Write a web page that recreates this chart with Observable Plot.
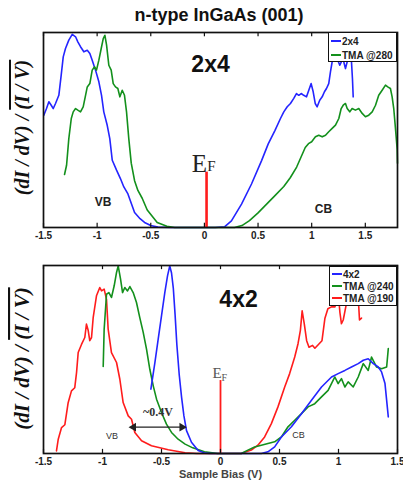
<!DOCTYPE html>
<html><head><meta charset="utf-8">
<script src="https://cdn.jsdelivr.net/npm/d3@7"></script>
<script src="https://cdn.jsdelivr.net/npm/@observablehq/plot@0.6"></script>
<style>
body{margin:0;background:#fff;width:403px;height:481px;position:relative;overflow:hidden;font-family:"Liberation Sans",Arial,sans-serif}
#title{position:absolute;left:0;top:5px;width:438px;text-align:center;font-weight:bold;font-size:18px;color:#111;line-height:normal}
.panel{position:absolute;left:0}
.legend{position:absolute;box-sizing:border-box;background:#fff;border:1.5px solid #111;font-size:10px;font-weight:bold;color:#222;white-space:nowrap}
.legend .row{display:flex;align-items:center}
.legend .sw{display:inline-block;width:10px;height:2px;margin-left:1.5px;margin-right:1.5px}
</style></head><body>
<div id="title">n-type InGaAs (001)</div>
<div id="p1" class="panel" style="top:30px"></div>
<div id="p2" class="panel" style="top:252px"></div>
<div id="leg1" class="legend" style="left:328px;top:32px;width:69px;height:30px;padding-top:1px"></div>
<div id="leg2" class="legend" style="left:329px;top:266px;width:68px;height:40px;padding-top:1px"></div>
<script>
// ---------- data ----------
const xTicksTop = [-1.5, -1, -0.5, 0, 0.5, 1, 1.5];
const xTicksBottom = [-1.5, -1, -0.5, 0, 0.5, 1, 1.5];
const seriesTop = ["2x4", "TMA @280"];
const seriesBottom = ["4x2", "TMA @240", "TMA @190"];
const colors = {"2x4": "#2424ff", "TMA @280": "#13901c", "4x2": "#2424ff", "TMA @240": "#13901c", "TMA @190": "#ff1c1c"};

// top panel: 2x4 surface (bias V, normalized conductance)
const top2x4 = [[-1.497,0.576],[-1.472,0.61],[-1.45,0.645],[-1.428,0.627],[-1.409,0.61],[-1.388,0.636],[-1.357,0.678],[-1.335,0.781],[-1.316,0.875],[-1.295,0.918],[-1.264,0.961],[-1.232,0.99],[-1.201,0.978],[-1.18,0.952],[-1.155,0.927],[-1.124,0.901],[-1.092,0.909],[-1.068,0.892],[-1.046,0.858],[-1.015,0.807],[-0.984,0.747],[-0.959,0.678],[-0.938,0.593],[-0.906,0.524],[-0.882,0.456],[-0.859,0.345],[-0.819,0.294],[-0.783,0.251],[-0.751,0.208],[-0.713,0.172],[-0.651,0.077],[-0.6,0.045],[-0.558,0.026],[-0.5,0.01],[-0.433,0.002],[-0.3,0],[-0.1,0],[0.1,0],[0.19,0.004],[0.252,0.034],[0.346,0.12],[0.439,0.223],[0.533,0.343],[0.595,0.429],[0.657,0.497],[0.709,0.559],[0.74,0.593],[0.772,0.619],[0.802,0.636],[0.833,0.662],[0.858,0.687],[0.88,0.678],[0.902,0.687],[0.926,0.678],[0.952,0.67],[0.973,0.704],[0.995,0.738],[1.014,0.696],[1.033,0.636],[1.051,0.619],[1.075,0.653],[1.098,0.67],[1.119,0.696],[1.138,0.713],[1.159,0.738],[1.175,0.798],[1.191,0.85],[1.206,0.892],[1.222,0.901],[1.243,0.858],[1.262,0.832],[1.284,0.858],[1.299,0.85],[1.315,0.815],[1.331,0.85],[1.346,0.901],[1.362,0.918],[1.371,0.85],[1.38,0.764],[1.387,0.67]];
const topTMA280 = [[-1.304,0.272],[-1.285,0.319],[-1.264,0.456],[-1.241,0.559],[-1.223,0.593],[-1.201,0.61],[-1.18,0.602],[-1.155,0.593],[-1.13,0.619],[-1.108,0.678],[-1.092,0.721],[-1.068,0.738],[-1.046,0.807],[-1.024,0.824],[-1.006,0.807],[-0.984,0.858],[-0.962,0.918],[-0.943,0.969],[-0.928,0.986],[-0.912,0.935],[-0.891,0.832],[-0.869,0.807],[-0.85,0.738],[-0.829,0.721],[-0.807,0.713],[-0.788,0.67],[-0.766,0.704],[-0.745,0.678],[-0.726,0.593],[-0.705,0.456],[-0.682,0.33],[-0.651,0.24],[-0.62,0.19],[-0.58,0.15],[-0.533,0.09],[-0.44,0.026],[-0.35,0.006],[-0.277,0],[0,0],[0.28,0],[0.35,0.01],[0.42,0.035],[0.5,0.075],[0.58,0.12],[0.66,0.165],[0.74,0.21],[0.8,0.255],[0.86,0.31],[0.9,0.36],[0.94,0.41],[0.97,0.43],[1.0,0.44],[1.035,0.465],[1.066,0.473],[1.098,0.465],[1.129,0.473],[1.159,0.491],[1.191,0.508],[1.222,0.525],[1.253,0.559],[1.275,0.61],[1.294,0.627],[1.315,0.636],[1.331,0.61],[1.355,0.593],[1.377,0.61],[1.408,0.602],[1.439,0.61],[1.471,0.585],[1.501,0.568],[1.532,0.576],[1.564,0.593],[1.595,0.627],[1.625,0.678],[1.657,0.704],[1.688,0.73],[1.709,0.721],[1.734,0.713],[1.75,0.67],[1.765,0.61],[1.781,0.508],[1.797,0.4],[1.8,0.33]];

// bottom panel
const bot4x2 = [[-0.59,0.342],[-0.556,0.484],[-0.528,0.608],[-0.5,0.732],[-0.472,0.856],[-0.449,0.945],[-0.43,0.998],[-0.415,0.96],[-0.4,0.88],[-0.385,0.74],[-0.37,0.58],[-0.35,0.42],[-0.33,0.3],[-0.31,0.2],[-0.288,0.122],[-0.246,0.06],[-0.189,0.016],[-0.133,0.002],[-0.079,0],[0.346,0],[0.402,0.009],[0.459,0.035],[0.516,0.088],[0.601,0.142],[0.686,0.212],[0.771,0.283],[0.856,0.354],[0.941,0.407],[0.997,0.425],[1.054,0.442],[1.11,0.46],[1.167,0.478],[1.21,0.496],[1.252,0.504],[1.295,0.478],[1.337,0.46],[1.365,0.434],[1.394,0.372],[1.422,0.195]];
const botTMA240 = [[-0.994,0.463],[-0.986,0.661],[-0.966,0.847],[-0.946,0.856],[-0.924,0.83],[-0.901,0.892],[-0.881,0.963],[-0.867,0.998],[-0.847,0.927],[-0.83,0.856],[-0.811,0.883],[-0.788,0.865],[-0.768,0.888],[-0.74,0.856],[-0.712,0.803],[-0.684,0.723],[-0.655,0.644],[-0.627,0.555],[-0.599,0.448],[-0.57,0.36],[-0.542,0.289],[-0.5,0.218],[-0.458,0.156],[-0.415,0.112],[-0.359,0.076],[-0.3,0.05],[-0.235,0.03],[-0.136,0.009],[-0.023,0],[0.176,0],[0.232,0.018],[0.289,0.035],[0.346,0.044],[0.402,0.053],[0.459,0.062],[0.516,0.088],[0.572,0.142],[0.629,0.177],[0.686,0.212],[0.742,0.248],[0.799,0.265],[0.856,0.301],[0.912,0.336],[0.969,0.407],[0.997,0.372],[1.025,0.398],[1.054,0.354],[1.082,0.381],[1.125,0.354],[1.167,0.407],[1.21,0.478],[1.252,0.442],[1.28,0.513],[1.323,0.46],[1.365,0.451],[1.408,0.46],[1.422,0.558]];
const botTMA190 = [[-1.39,0.014],[-1.375,0.076],[-1.347,0.138],[-1.319,0.153],[-1.291,0.27],[-1.263,0.333],[-1.235,0.35],[-1.22,0.43],[-1.206,0.537],[-1.178,0.58],[-1.15,0.617],[-1.136,0.688],[-1.121,0.654],[-1.108,0.6],[-1.093,0.617],[-1.079,0.723],[-1.051,0.839],[-1.023,0.883],[-1.008,0.865],[-0.986,0.874],[-0.966,0.82],[-0.952,0.661],[-0.924,0.537],[-0.881,0.484],[-0.853,0.395],[-0.825,0.271],[-0.782,0.2],[-0.754,0.182],[-0.726,0.112],[-0.669,0.068],[-0.585,0.041],[-0.443,0.02],[-0.3,0.004],[-0.2,0],[0.176,0],[0.261,0.018],[0.317,0.044],[0.374,0.088],[0.431,0.159],[0.487,0.248],[0.544,0.354],[0.586,0.425],[0.629,0.513],[0.657,0.584],[0.677,0.655],[0.692,0.759],[0.71,0.69],[0.73,0.6],[0.75,0.565],[0.78,0.575],[0.8,0.56],[0.83,0.58],[0.86,0.6],[0.885,0.72],[0.91,0.77],[0.94,0.78],[0.97,0.78],[1.0,0.84],[1.012,0.75],[1.025,0.69],[1.04,0.71],[1.068,0.8],[1.085,0.9],[1.095,1.0],[1.105,0.9],[1.127,0.84],[1.15,0.86],[1.17,0.8],[1.178,0.71],[1.195,0.72]];

// Fermi level markers and annotations (data coordinates)
const efTop = {x: 0.02, h: 0.284};
const efBottom = {x: 0.0, h: 0.388};
const gapArrow = {x1: -0.737, x2: -0.327, y: 0.14, label: "~0.4V"};
const yLabelMain = "(dI / dV) / ";
const yLabelBar = "(I / V)";
const xLabel = "Sample Bias (V)";

// ---------- drawing ----------
const fx = d => d[0], fy = d => d[1];
const sans = "'Liberation Sans', Arial, sans-serif";
const serif = "'Liberation Serif', 'Times New Roman', serif";

function frameMarks(ticks) {
  return [
    Plot.frame({stroke: "#111", strokeWidth: 1.7}),
    Plot.ruleX(ticks, {y1: 0, y2: 0.022, stroke: "#111", strokeWidth: 1.2}),
    Plot.ruleX(ticks, {y1: 0.978, y2: 1, stroke: "#111", strokeWidth: 1.2})
  ];
}

const p1 = Plot.plot({
  width: 403, height: 222,
  marginLeft: 43, marginRight: 6, marginTop: 2, marginBottom: 25,
  x: {domain: [-1.5, 1.8]},
  y: {domain: [0, 1]},
  style: {fontFamily: sans, background: "transparent", overflow: "visible"},
  marks: [
    Plot.line(top2x4, {x: fx, y: fy, stroke: colors["2x4"], strokeWidth: 1.6}),
    Plot.line(topTMA280, {x: fx, y: fy, stroke: colors["TMA @280"], strokeWidth: 1.6}),
    Plot.ruleX([efTop], {x: "x", y1: 0, y2: "h", stroke: "#ff1c1c", strokeWidth: 2.6}),
    Plot.text(["E"], {x: efTop.x - 0.066, y: efTop.h, lineAnchor: "bottom", fontFamily: serif, fontSize: 25, fill: "#222"}),
    Plot.text(["F"], {x: efTop.x + 0.046, y: efTop.h + 0.008, lineAnchor: "bottom", fontFamily: serif, fontSize: 15, fill: "#222"}),
    Plot.text(["2x4"], {x: 0.057, y: 0.795, lineAnchor: "bottom", fontSize: 23, fontWeight: "bold", fill: "#111"}),
    Plot.text(["VB"], {x: -0.945, y: 0.108, lineAnchor: "bottom", fontSize: 12, fontWeight: "bold", fill: "#222"}),
    Plot.text(["CB"], {x: 1.11, y: 0.072, lineAnchor: "bottom", fontSize: 12, fontWeight: "bold", fill: "#222"}),
    ...frameMarks(xTicksTop),
    Plot.axisX(xTicksTop, {tickSize: 0, tickPadding: 4, tickFormat: d => String(d), label: null, fontSize: 10, fontWeight: "bold", fill: "#222"}),
    Plot.axisY([], {label: null, tickSize: 0})
  ]
});

const p2 = Plot.plot({
  width: 403, height: 229,
  marginLeft: 43, marginRight: 6, marginTop: 13, marginBottom: 28,
  x: {domain: [-1.5, 1.5]},
  y: {domain: [0, 1]},
  style: {fontFamily: sans, background: "transparent", overflow: "visible"},
  marks: [
    Plot.line(botTMA190, {x: fx, y: fy, stroke: colors["TMA @190"], strokeWidth: 1.6}),
    Plot.line(botTMA240, {x: fx, y: fy, stroke: colors["TMA @240"], strokeWidth: 1.6}),
    Plot.line(bot4x2, {x: fx, y: fy, stroke: colors["4x2"], strokeWidth: 1.6}),
    Plot.ruleX([efBottom], {x: "x", y1: 0, y2: "h", stroke: "#ff1c1c", strokeWidth: 1.8}),
    Plot.text(["E"], {x: efBottom.x - 0.03, y: efBottom.h + 0.011, lineAnchor: "bottom", fontFamily: serif, fontSize: 15, fill: "#555"}),
    Plot.text(["F"], {x: efBottom.x + 0.032, y: efBottom.h - 0.005, lineAnchor: "bottom", fontFamily: serif, fontSize: 10, fill: "#555"}),
    Plot.link([gapArrow], {x1: "x1", x2: "x2", y1: "y", y2: "y", stroke: "#222", strokeWidth: 1.2}),
    Plot.dot([gapArrow], {x: "x1", y: "y", symbol: "triangle", r: 3.2, fill: "#222", rotate: -90}),
    Plot.dot([gapArrow], {x: "x2", y: "y", symbol: "triangle", r: 3.2, fill: "#222", rotate: 90}),
    Plot.text([gapArrow], {x: -0.53, y: 0.198, text: "label", lineAnchor: "bottom", fontFamily: serif, fontSize: 12, fontWeight: "bold", fill: "#333"}),
    Plot.text(["4x2"], {x: 0.153, y: 0.778, lineAnchor: "bottom", fontSize: 23, fontWeight: "bold", fill: "#111"}),
    Plot.text(["VB"], {x: -0.92, y: 0.078, lineAnchor: "bottom", fontSize: 9, fill: "#333"}),
    Plot.text(["CB"], {x: 0.66, y: 0.083, lineAnchor: "bottom", fontSize: 9, fill: "#333"}),
    ...frameMarks(xTicksBottom),
    Plot.axisX(xTicksBottom, {tickSize: 0, tickPadding: 4, tickFormat: d => String(d), label: null, fontSize: 10, fontWeight: "bold", fill: "#222"}),
    Plot.text([xLabel], {frameAnchor: "bottom", dy: 21, lineAnchor: "middle", fontSize: 11, fontWeight: "bold", fill: "#444"}),
    Plot.axisY([], {label: null, tickSize: 0})
  ]
});

function addYLabel(svg, cy, size) {
  const t = d3.select(svg).append("text")
    .attr("transform", `translate(29,${cy}) rotate(-90)`)
    .attr("text-anchor", "middle")
    .attr("fill", "#111")
    .style("font-family", serif)
    .style("font-style", "italic")
    .style("font-weight", "bold")
    .style("font-size", size + "px");
  t.append("tspan").text(yLabelMain);
  t.append("tspan").style("text-decoration", "overline").text(yLabelBar);
}
addYLabel(p1, 97.5, 20);
addYLabel(p2, 106.5, 21);

document.getElementById("p1").appendChild(p1);
document.getElementById("p2").appendChild(p2);

function legend(el, names, rowH) {
  const d = d3.select(el);
  names.forEach(n => {
    const r = d.append("div").attr("class", "row").style("height", rowH + "px");
    r.append("span").attr("class", "sw").style("background", colors[n]);
    r.append("span").text(n);
  });
}
legend("#leg1", seriesTop, 14);
legend("#leg2", seriesBottom, 12);
</script>
</body></html>
